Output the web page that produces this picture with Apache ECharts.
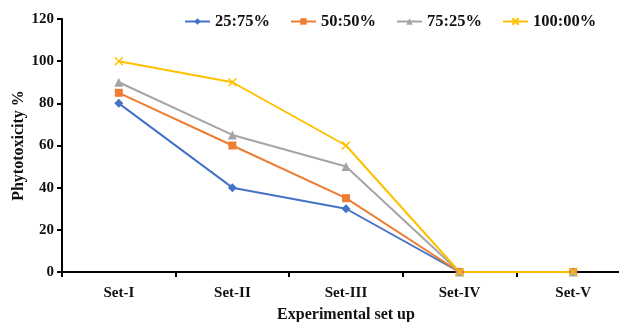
<!DOCTYPE html>
<html><head><meta charset="utf-8">
<script src="https://cdn.jsdelivr.net/npm/echarts@6/dist/echarts.min.js"></script>
<style>html,body{margin:0;padding:0;background:#fff}#c{width:619px;height:322px}</style>
</head><body><div id="c"></div>
<script>
const categories = ['Set-I','Set-II','Set-III','Set-IV','Set-V'];
const s25 = [80, 40, 30, 0, 0];
const s50 = [85, 60, 35, 0, 0];
const s75 = [90, 65, 50, 0, 0];
const s100 = [100, 90, 60, 0, 0];
const seriesNames = ['25:75%','50:50%','75:25%','100:00%'];
const yTicks = {min: 0, max: 120, interval: 20};

const font = 'Liberation Serif';
const xPath = 'path://M0,0 L10,10 M10,0 L0,10';
const chart = echarts.init(document.getElementById('c'));
function mk(name, data, color, symbol, size, extra) {
  return Object.assign({
    name, type: 'line', data, symbol, symbolSize: size,
    lineStyle: {color, width: 2}, itemStyle: {color},
    emphasis: {disabled: true}, animation: false
  }, extra || {});
}
chart.setOption({
  animation: false,
  textStyle: {fontFamily: font},
  grid: {left: 62, width: 568, top: 19, bottom: 50, outerBoundsMode: 'none', containLabel: false},
  legend: {
    top: 8, left: 179, width: 450, itemGap: 20, itemWidth: 25, itemHeight: 8,
    textStyle: {fontFamily: font, fontWeight: 'bold', fontSize: 16.5, color: '#111'},
    data: seriesNames
  },
  xAxis: {
    type: 'category', data: categories, boundaryGap: true,
    name: 'Experimental set up', nameLocation: 'middle', nameGap: 35, nameMoveOverlap: false,
    nameTextStyle: {fontFamily: font, fontWeight: 'bold', fontSize: 16, color: '#111'},
    axisLine: {lineStyle: {color: '#000', width: 2}},
    axisTick: {show: true, length: 5, lineStyle: {color: '#000', width: 2}},
    axisLabel: {fontFamily: font, fontWeight: 'bold', fontSize: 15, color: '#111', margin: 14}
  },
  yAxis: {
    type: 'value', min: yTicks.min, max: yTicks.max, interval: yTicks.interval,
    name: 'Phytotoxicity %', nameLocation: 'middle', nameGap: 35, nameMoveOverlap: false,
    nameTextStyle: {fontFamily: font, fontWeight: 'bold', fontSize: 16, color: '#111'},
    axisLine: {show: true, lineStyle: {color: '#000', width: 2}},
    axisTick: {show: true, length: 5, lineStyle: {color: '#000', width: 2}},
    splitLine: {show: false},
    axisLabel: {fontFamily: font, fontWeight: 'bold', fontSize: 15, color: '#111', margin: 8}
  },
  series: [
    mk(seriesNames[0], s25, '#4472C4', 'diamond', 9),
    mk(seriesNames[1], s50, '#ED7D31', 'rect', 8),
    mk(seriesNames[2], s75, '#A5A5A5', 'triangle', 9),
    mk(seriesNames[3], s100, '#FFC000', xPath, 8, {itemStyle: {color: '#FFC000', borderColor: '#FFC000', borderWidth: 1.5}})
  ]
});
</script></body></html>
